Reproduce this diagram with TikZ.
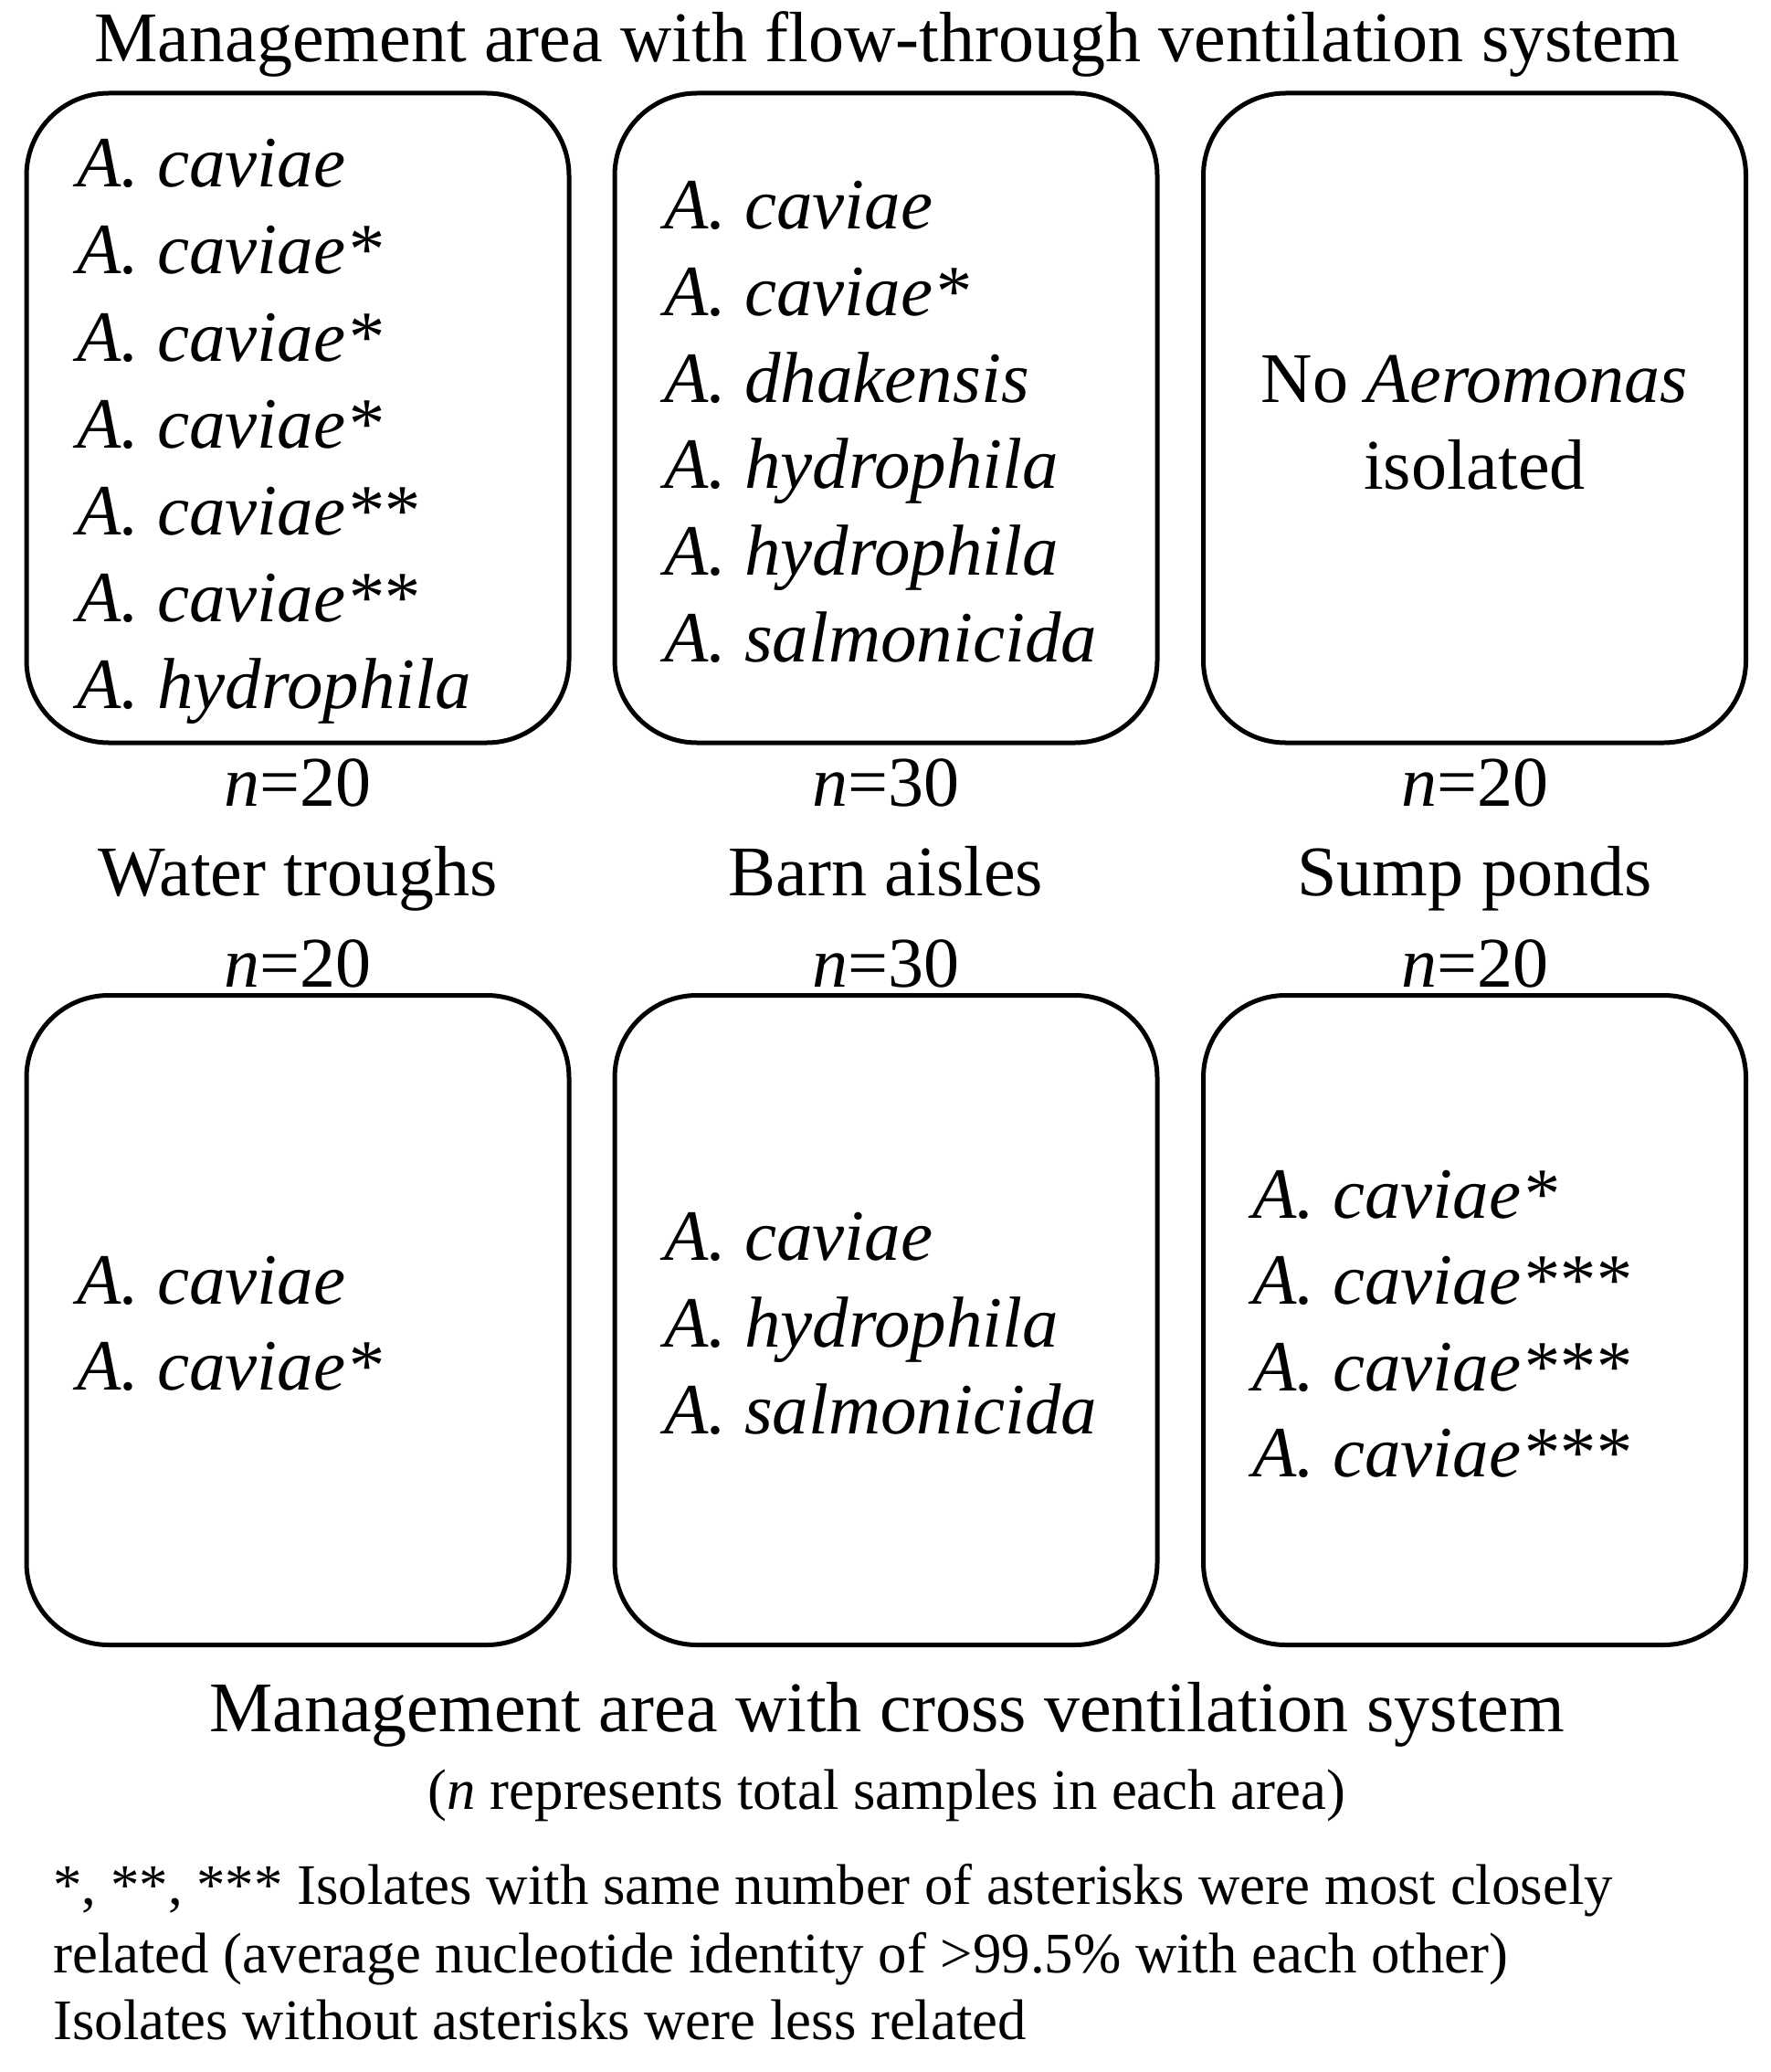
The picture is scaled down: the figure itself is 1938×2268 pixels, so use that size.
\documentclass[tikz,border=0pt]{standalone}
\usepackage{fontspec}
\setmainfont{Liberation Serif}
\begin{document}
\begin{tikzpicture}[x=0.5pt,y=-0.5pt,
  box/.style={draw, line width=2.5pt, rounded corners=45pt, minimum width=297pt, minimum height=355.5pt, inner sep=0pt},
  big/.style={font=\fontsize{39}{47}\selectfont, inner sep=0pt},
  sp/.style={font=\fontsize{39.5}{47}\selectfont\itshape, inner sep=0pt, anchor=base west},
  small/.style={font=\fontsize{31.4}{37}\selectfont, inner sep=0pt}]
\useasboundingbox (0,0) rectangle (1938,2268);

\node[big, anchor=base] (t1) at (971,68) {Management area with flow-through ventilation system};

\node[box] (b1) at (326,457.5) {};
\node[box] (b2) at (970,457.5) {};
\node[box] (b3) at (1614.5,457.5) {};
\node[box] (b4) at (326,1445) {};
\node[box] (b5) at (970,1445) {};
\node[box] (b6) at (1614.5,1445) {};

\foreach \t [count=\i] in {A. caviae, A. caviae*, A. caviae*, A. caviae*, A. caviae**, A. caviae**, A. hydrophila}
  \node[sp] (sa\i) at (84,{205+95*(\i-1)}) {\t};
\foreach \t [count=\i] in {A. caviae, A. caviae*, A. dhakensis, A. hydrophila, A. hydrophila, A. salmonicida}
  \node[sp] (sb\i) at (727,{251+94.6*(\i-1)}) {\t};
\node[big, anchor=base] (c1) at (1614.5,440) {No \textit{Aeromonas}};
\node[big, anchor=base] (c2) at (1614.5,535) {isolated};

\node[big, anchor=base] (n1) at (326,882) {\textit{n}=20};
\node[big, anchor=base] (n2) at (970,882) {\textit{n}=30};
\node[big, anchor=base] (n3) at (1614.5,882) {\textit{n}=20};
\node[big, anchor=base] (l1) at (326,980) {Water troughs};
\node[big, anchor=base] (l2) at (970,980) {Barn aisles};
\node[big, anchor=base] (l3) at (1614.5,980) {Sump ponds};
\node[big, anchor=base] (n4) at (326,1080) {\textit{n}=20};
\node[big, anchor=base] (n5) at (970,1080) {\textit{n}=30};
\node[big, anchor=base] (n6) at (1614.5,1080) {\textit{n}=20};

\foreach \t [count=\i] in {A. caviae, A. caviae*}
  \node[sp] (sd\i) at (84,{1427+94.5*(\i-1)}) {\t};
\foreach \t [count=\i] in {A. caviae, A. hydrophila, A. salmonicida}
  \node[sp] (se\i) at (727,{1379+95*(\i-1)}) {\t};
\foreach \t [count=\i] in {A. caviae*, A. caviae***, A. caviae***, A. caviae***}
  \node[sp] (sf\i) at (1371,{1333+94.5*(\i-1)}) {\t};

\node[big, anchor=base] (t2) at (971,1895) {Management area with cross ventilation system};
\node[small, anchor=base] (t3) at (971,1980) {(\textit{n} represents total samples in each area)};

\node[small, anchor=base west] (f1) at (58,2084) {*, **, *** Isolates with same number of asterisks were most closely};
\node[small, anchor=base west] (f2) at (58,2159) {related (average nucleotide identity of >99.5\% with each other)};
\node[small, anchor=base west] (f3) at (58,2232) {Isolates without asterisks were less related};
\end{tikzpicture}
\end{document}
